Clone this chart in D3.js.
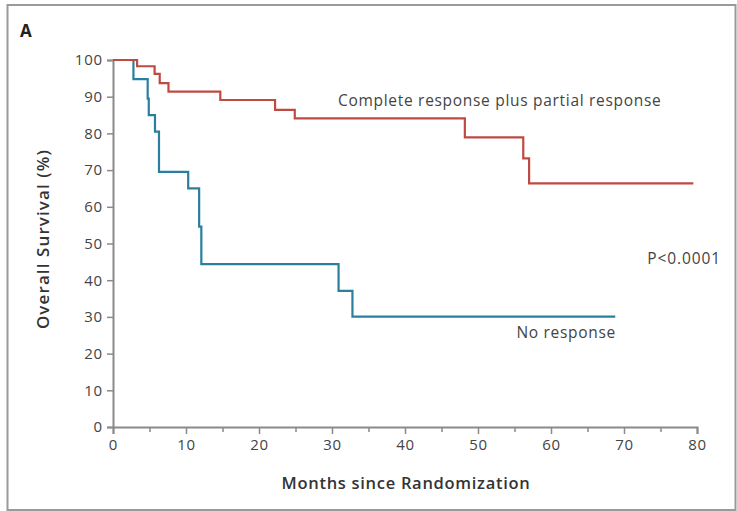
<!DOCTYPE html>
<html><head><meta charset="utf-8">
<script src="https://cdn.jsdelivr.net/npm/d3@7"></script>
<style>body{margin:0;background:#fff}svg{display:block}text{font-family:"Open Sans",sans-serif}</style>
</head><body>
<svg id="c" width="737" height="511"></svg>
<script>
const xTicks = [0,10,20,30,40,50,60,70,80];
const yTicks = [0,10,20,30,40,50,60,70,80,90,100];
const respTime = [0, 3.3, 5.7, 6.4, 7.6, 14.7, 22.2, 24.9, 48.2, 56.2, 57.0, 79.5];
const respSurv = [100, 98.3, 96.2, 93.7, 91.4, 89.1, 86.4, 84.1, 78.9, 73.2, 66.4, 66.4];
const noneTime = [0, 2.8, 4.75, 4.9, 5.75, 6.3, 10.3, 11.8, 12.1, 30.9, 32.8, 68.8];
const noneSurv = [100, 94.8, 89.5, 85, 80.5, 69.5, 65, 54.6, 44.4, 37.1, 30.1, 30.1];

const svg = d3.select("#c");
svg.append("rect").attr("x",7.5).attr("y",5).attr("width",728).attr("height",505)
  .attr("fill","none").attr("stroke","#9a9a9a").attr("stroke-width",2);
svg.append("text").attr("x",20).attr("y",37).text("A")
  .attr("font-size",17).attr("font-weight",700).attr("fill","#222");

const x = d3.scaleLinear().domain([0,80]).range([113,697]);
const y = d3.scaleLinear().domain([0,100]).range([427,60]);
const axisColor = "#8a8a8a";

// x axis
const xa = svg.append("g").attr("transform","translate(0,427)")
  .call(d3.axisBottom(x).tickValues(xTicks).tickSize(7).tickPadding(5));
xa.select(".domain").attr("stroke",axisColor).attr("stroke-width",2);
xa.selectAll(".tick line").attr("stroke",axisColor).attr("stroke-width",1.5);
xa.selectAll("text").attr("font-size",15).attr("letter-spacing",0.8).attr("fill","#444");
const xm = svg.append("g").attr("transform","translate(0,427)")
  .call(d3.axisBottom(x).tickValues(xTicks.slice(0,-1).map(v=>v+5)).tickSize(5).tickFormat(""));
xm.select(".domain").remove();
xm.selectAll(".tick line").attr("stroke",axisColor).attr("stroke-width",1.5);

// y axis
const ya = svg.append("g").attr("transform","translate(113,0)")
  .call(d3.axisLeft(y).tickValues(yTicks).tickSize(6).tickPadding(4));
ya.select(".domain").attr("stroke",axisColor).attr("stroke-width",2);
ya.selectAll(".tick line").attr("stroke",axisColor).attr("stroke-width",1.5);
ya.selectAll("text").attr("font-size",15).attr("letter-spacing",0.8).attr("fill","#444");

// titles
svg.append("text").attr("x",406).attr("y",489).attr("text-anchor","middle")
  .attr("font-size",16.5).attr("letter-spacing",0.7).attr("font-weight",600).attr("fill","#333").text("Months since Randomization");
svg.append("text").attr("transform","translate(49,239) rotate(-90)").attr("text-anchor","middle")
  .attr("font-size",17).attr("letter-spacing",1.1).attr("font-weight",600).attr("fill","#333").text("Overall Survival (%)");

const line = d3.line().x(d=>x(d[0])).y(d=>y(d[1])).curve(d3.curveStepAfter);
svg.append("path").datum(noneTime.map((t,i)=>[t,noneSurv[i]]))
  .attr("d",line).attr("fill","none").attr("stroke","#2b7f9e").attr("stroke-width",2.2);
svg.append("path").datum(respTime.map((t,i)=>[t,respSurv[i]]))
  .attr("d",line).attr("fill","none").attr("stroke","#bf4a42").attr("stroke-width",2.2);

svg.append("text").attr("x",338).attr("y",106).attr("font-size",15.5).attr("letter-spacing",0.7).attr("fill","#444")
  .text("Complete response plus partial response");
svg.append("text").attr("x",616).attr("y",338).attr("text-anchor","end").attr("font-size",15.5).attr("letter-spacing",0.7).attr("fill","#444")
  .text("No response");
svg.append("text").attr("x",721).attr("y",264).attr("text-anchor","end").attr("font-size",15.5).attr("letter-spacing",0.9).attr("fill","#444")
  .text("P<0.0001");
</script>
</body></html>
